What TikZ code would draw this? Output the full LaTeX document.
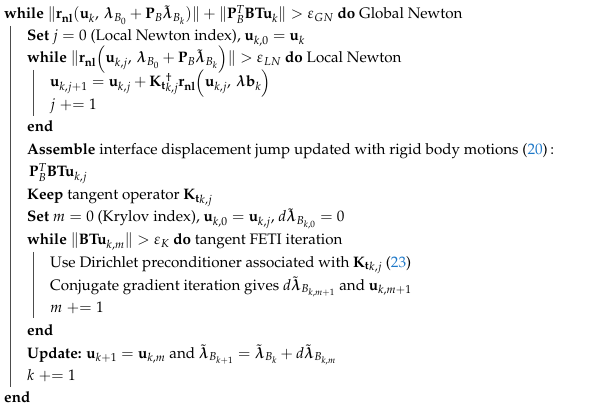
\documentclass[tikz,border=0pt]{standalone}
\usepackage[T1]{fontenc}
\usepackage{amsmath,amssymb}
\usepackage{mathpazo}
\usepackage{bm}
\definecolor{refblue}{RGB}{30,120,200}
\newcommand{\kw}[1]{\textbf{#1}}
\newcommand{\rnl}{\mathbf{r}_{\mathbf{nl}}}
\newcommand{\rf}[1]{(\textcolor{refblue}{#1})}
\begin{document}
\begin{tikzpicture}[x=1pt,y=-1pt,
  ln/.style={anchor=base west,inner sep=0pt,font=\fontsize{15.2}{17}\selectfont},
  bar/.style={draw=black!70,line width=0.6pt}]
\useasboundingbox (0,0) rectangle (604,411);
\node[ln] (l1) at (4,19) {\kw{while} $\|\rnl(\mathbf{u}_k,\,\bm\lambda_{B_0}+\mathbf{P}_B\tilde{\bm\lambda}_{B_k})\|+\|\mathbf{P}_B^T\mathbf{B}\mathbf{T}\mathbf{u}_k\|>\varepsilon_{GN}$ \kw{do} Global Newton};
\node[ln] (l2) at (27,41) {\kw{Set} $j=0$ (Local Newton index), $\mathbf{u}_{k,0}=\mathbf{u}_k$};
\node[ln] (l3) at (27,63) {\kw{while} $\|\rnl\Big(\mathbf{u}_{k,j},\,\bm\lambda_{B_0}+\mathbf{P}_B\tilde{\bm\lambda}_{B_k}\Big)\|>\varepsilon_{LN}$ \kw{do} Local Newton};
\node[ln] (l4) at (50,87) {$\mathbf{u}_{k,j+1}=\mathbf{u}_{k,j}+{\mathbf{K}_{\mathbf{t}}}_{k,j}^{\dagger}\rnl\Big(\mathbf{u}_{k,j},\,\bm\lambda\mathbf{b}_k\Big)$};
\node[ln] (l5) at (50,110) {$j \mathrel{+}= 1$};
\node[ln] (l6) at (27,132) {\kw{end}};
\node[ln] (l7) at (27,155) {\kw{Assemble} interface displacement jump updated with rigid body motions \rf{20}\,:};
\node[ln] (l8) at (29,177) {$\mathbf{P}_B^T\mathbf{B}\mathbf{T}\mathbf{u}_{k,j}$};
\node[ln] (l9) at (27,200) {\kw{Keep} tangent operator ${\mathbf{K}_{\mathbf{t}}}_{k,j}$};
\node[ln] (l10) at (27,222) {\kw{Set} $m=0$ (Krylov index), $\mathbf{u}_{k,0}=\mathbf{u}_{k,j}$, $d\tilde{\bm\lambda}_{B_{k,0}}=0$};
\node[ln] (l11) at (27,245) {\kw{while} $\|\mathbf{B}\mathbf{T}\mathbf{u}_{k,m}\|>\varepsilon_K$ \kw{do} tangent FETI iteration};
\node[ln] (l12) at (50,267) {Use Dirichlet preconditioner associated with ${\mathbf{K}_{\mathbf{t}}}_{k,j}$ \rf{23}};
\node[ln] (l13) at (50,290) {Conjugate gradient iteration gives $d\tilde{\bm\lambda}_{B_{k,m+1}}$ and $\mathbf{u}_{k,m+1}$};
\node[ln] (l14) at (50,312) {$m \mathrel{+}= 1$};
\node[ln] (l15) at (27,335) {\kw{end}};
\node[ln] (l16) at (27,358) {\kw{Update:} $\mathbf{u}_{k+1}=\mathbf{u}_{k,m}$ and $\tilde{\bm\lambda}_{B_{k+1}}=\tilde{\bm\lambda}_{B_k}+d\tilde{\bm\lambda}_{B_{k,m}}$};
\node[ln] (l17) at (27,380) {$k \mathrel{+}= 1$};
\node[ln] (l18) at (4,402) {\kw{end}};
\coordinate (b1t) at (10,26); \coordinate (b1b) at (10,387);
\coordinate (b2t) at (33,70); \coordinate (b2b) at (33,116);
\coordinate (b3t) at (33,252); \coordinate (b3b) at (33,318);
\draw[bar] (b1t) -- (b1b);
\draw[bar] (b2t) -- (b2b);
\draw[bar] (b3t) -- (b3b);
\end{tikzpicture}
\end{document}
